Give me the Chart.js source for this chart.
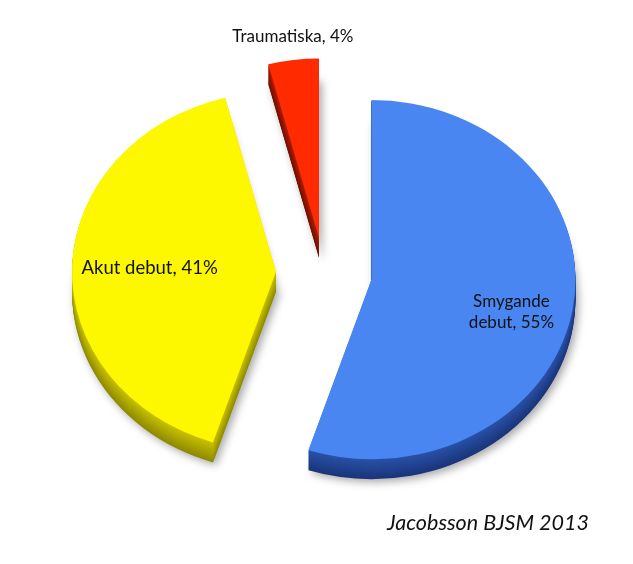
<!DOCTYPE html>
<html>
<head>
<meta charset="utf-8">
<script src="https://cdn.jsdelivr.net/npm/chart.js@4.4.1/dist/chart.umd.min.js"></script>
<style>
  body { margin: 0; background: #fff; }
  #wrap { position: relative; width: 633px; height: 564px; }
</style>
</head>
<body>
<div id="wrap"><canvas id="myChart"></canvas></div>
<script>
// data
const labels = ['Smygande debut', 'Akut debut', 'Traumatiska'];
const values = [55, 41, 4];
const labelLines = [['Smygande', 'debut, 55%'], ['Akut debut, 41%'], ['Traumatiska, 4%']];
const caption = 'Jacobsson BJSM 2013';

// look
const topColors = ['#4a86f2', '#fdf800', '#ff2a00'];
const sideTop = ['#2a52a8', '#c9c200', '#b01c00'];
const sideBottom = ['#1a357a', '#8e8900', '#701000'];
const explode = [48, 48, 40];
const tilt = 0.88;     // vertical squash of the pie (fake 3d)
const depth = 20;      // thickness in px
// label anchor: [deg clockwise from top, fraction of radius]
const labelAt = [[104.8, 0.71], [271.8, 0.62], [353.5, 1.13]];
const labelFont = ['17px Lato', '18.5px Lato', '17px Lato'];

function mix(a, b, t) {
  const pa = [1, 3, 5].map(i => parseInt(a.substr(i, 2), 16));
  const pb = [1, 3, 5].map(i => parseInt(b.substr(i, 2), 16));
  const c = pa.map((v, i) => Math.round(v + (pb[i] - v) * t));
  return 'rgb(' + c.join(',') + ')';
}

function center(chart) {
  const a = chart.chartArea;
  return { cx: (a.left + a.right) / 2, cy: (a.top + a.bottom) / 2 };
}

const pie3d = {
  id: 'pie3d',
  afterDatasetUpdate(chart, args) {
    args.meta.data.forEach((el, i) => {
      const mid = (el.startAngle + el.endAngle) / 2;
      el.x += Math.cos(mid) * explode[i];
      el.y += Math.sin(mid) * explode[i];
    });
  },
  beforeDatasetsDraw(chart) {
    const ctx = chart.ctx;
    const { cx, cy } = center(chart);
    ctx.save();
    ctx.translate(cx, cy);
    ctx.scale(1, tilt);
    ctx.translate(-cx, -cy);
    const arcs = chart.getDatasetMeta(0).data;
    for (let d = depth; d >= 1; d--) {
      arcs.forEach((el, i) => {
        ctx.save();
        if (d === depth) {
          ctx.shadowColor = 'rgba(0,0,0,0.35)';
          ctx.shadowBlur = 8;
          ctx.shadowOffsetX = 3;
          ctx.shadowOffsetY = 3;
        }
        const off = d / tilt;
        ctx.beginPath();
        ctx.moveTo(el.x, el.y + off);
        ctx.arc(el.x, el.y + off, el.outerRadius, el.startAngle, el.endAngle);
        ctx.closePath();
        ctx.fillStyle = mix(sideTop[i], sideBottom[i], d / depth);
        ctx.fill();
        ctx.restore();
      });
    }
  },
  afterDatasetsDraw(chart) {
    chart.ctx.restore();
  },
  afterDraw(chart) {
    const ctx = chart.ctx;
    const { cx, cy } = center(chart);
    const arcs = chart.getDatasetMeta(0).data;
    ctx.save();
    ctx.fillStyle = '#111';
    ctx.textAlign = 'center';
    ctx.textBaseline = 'middle';
    arcs.forEach((el, i) => {
      const a = (labelAt[i][0] - 90) * Math.PI / 180;
      const r = el.outerRadius * labelAt[i][1];
      const x = el.x + Math.cos(a) * r;
      const y = cy + (el.y + Math.sin(a) * r - cy) * tilt;
      const lines = labelLines[i];
      ctx.font = labelFont[i];
      lines.forEach((t, j) => {
        ctx.fillText(t, x, y + (j - (lines.length - 1) / 2) * 21);
      });
    });
    ctx.font = 'italic 21.5px Lato';
    ctx.textAlign = 'right';
    ctx.textBaseline = 'alphabetic';
    ctx.fillText(caption, 589, 530);
    ctx.restore();
  }
};

const data = {
  labels: labels,
  datasets: [{
    data: values,
    backgroundColor: topColors,
    borderWidth: 0,
    clip: false
  }]
};

const config = {
  type: 'pie',
  data: data,
  options: {
    responsive: true,
    maintainAspectRatio: false,
    animation: false,
    radius: 204,
    rotation: 0,
    layout: { padding: { left: 15, right: 0, top: 0, bottom: 18 } },
    plugins: {
      legend: { display: false },
      tooltip: { enabled: false }
    }
  },
  plugins: [pie3d]
};

const ctx = document.getElementById('myChart');
const myChart = new Chart(ctx, config);
</script>
</body>
</html>
